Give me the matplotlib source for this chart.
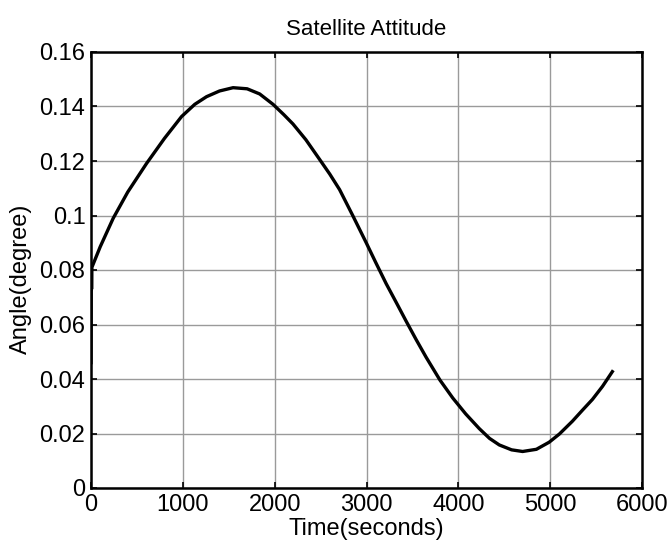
import matplotlib
matplotlib.use("Agg")
import matplotlib.pyplot as plt

# values
time_s = [0, 3, 6, 10, 100, 242, 400, 605, 800, 986, 1130, 1258, 1400, 1547,
          1700, 1837, 1982, 2100, 2199, 2340, 2489, 2600, 2707, 2850, 2997,
          3100, 3214, 3330, 3432, 3540, 3649, 3800, 3940, 4080, 4228, 4340,
          4446, 4580, 4700, 4850, 4989, 5100, 5242, 5350, 5460, 5570, 5677]
angle_deg = [0.046, 0.081, 0.073, 0.081, 0.0885, 0.0990, 0.1086, 0.1191, 0.1283,
             0.1363, 0.1408, 0.1436, 0.1457, 0.1469, 0.1465, 0.1446, 0.1408,
             0.1370, 0.1336, 0.1278, 0.1206, 0.1152, 0.1095, 0.1000, 0.0900,
             0.0828, 0.0750, 0.0677, 0.0612, 0.0545, 0.0480, 0.0396, 0.0330,
             0.0272, 0.0218, 0.0182, 0.0158, 0.0140, 0.0134, 0.0142, 0.0168,
             0.0198, 0.0245, 0.0285, 0.0325, 0.0373, 0.0427]
x_ticks = [0, 1000, 2000, 3000, 4000, 5000, 6000]
y_ticks = [0, 0.02, 0.04, 0.06, 0.08, 0.1, 0.12, 0.14, 0.16]
y_tick_labels = ["0", "0.02", "0.04", "0.06", "0.08", "0.1", "0.12", "0.14", "0.16"]

plt.rcParams["font.family"] = ["Liberation Sans", "DejaVu Sans"]

fig = plt.figure(figsize=(6.68, 5.44), dpi=100)
ax = fig.add_axes([91 / 668, 1 - 488 / 544, 551 / 668, 436 / 544])

ax.plot(time_s, angle_deg, color="black", lw=2.4)

ax.set_xlim(0, 6000)
ax.set_ylim(0, 0.16)
ax.set_xticks(x_ticks)
ax.set_yticks(y_ticks)
ax.set_yticklabels(y_tick_labels)
ax.grid(True, color="#9a9a9a", lw=1.0)
ax.set_axisbelow(True)
ax.tick_params(direction="in", top=True, right=True, length=4, width=1.2,
               labelsize=17, pad=4)
for s in ax.spines.values():
    s.set_linewidth(1.8)

ax.set_xlabel("Time(seconds)", fontsize=17, va="center")
ax.xaxis.set_label_coords(0.5, -0.093)
ax.set_ylabel("Angle(degree)", fontsize=17, va="center")
ax.yaxis.set_label_coords(-0.128, 0.479)
ax.set_title("Satellite Attitude", fontsize=16, pad=12)

fig.savefig("out.png", dpi=100)
